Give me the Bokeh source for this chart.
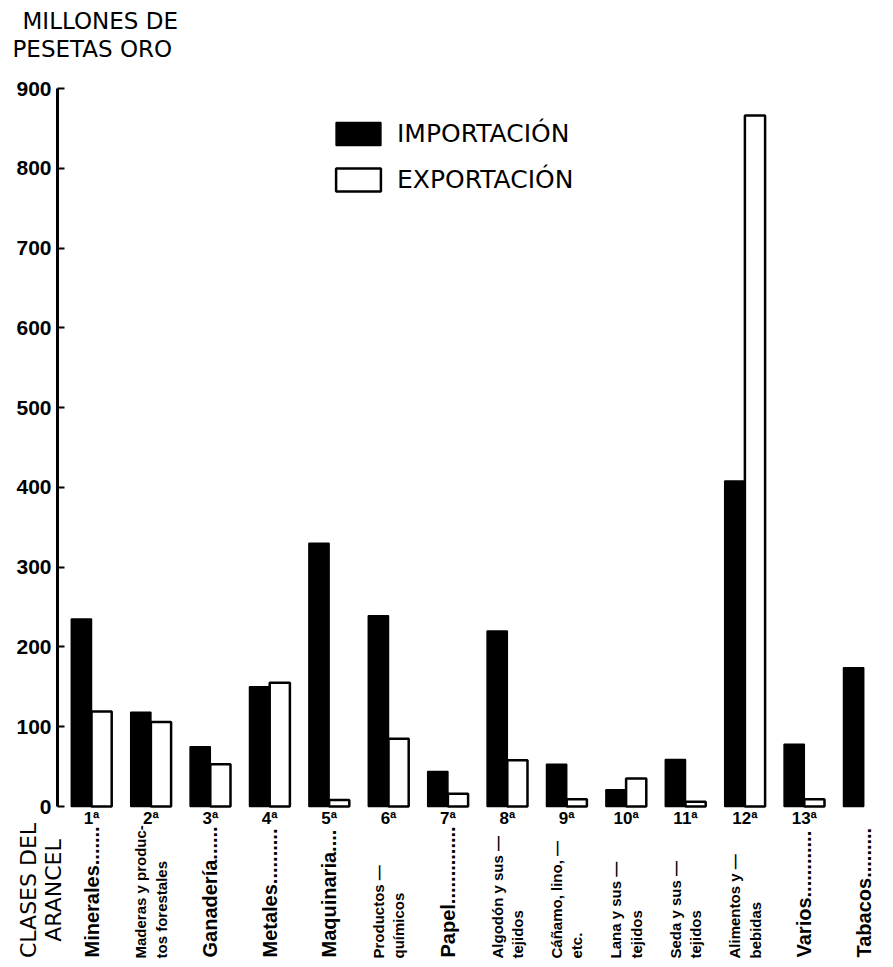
import math
from bokeh.plotting import figure
from bokeh.models import ColumnDataSource, FixedTicker, Legend, LegendItem, Label, CDSView, IndexFilter
from bokeh.transform import dodge
from bokeh.core.properties import value
from bokeh.embed import file_html
from bokeh.resources import INLINE

# ---------------- data ----------------
clases = ["1ª", "2ª", "3ª", "4ª", "5ª", "6ª", "7ª", "8ª", "9ª", "10ª", "11ª", "12ª", "13ª", ""]
nombres = [
    "Minerales.......",
    "Maderas y produc-\ntos forestales",
    "Ganadería......",
    "Metales..........",
    "Maquinaria....",
    "Productos —\nquímicos",
    "Papel..............",
    "Algodón y sus —\ntejidos",
    "Cáñamo, lino, —\netc.",
    "Lana y sus —\ntejidos",
    "Seda y sus —\ntejidos",
    "Alimentos y —\nbebidas",
    "Varios............",
    "Tabacos.........",
]
importacion = [235, 118, 75, 150, 330, 239, 44, 220, 53, 21, 59, 408, 78, 174]
exportacion = [119, 106, 53, 155, 8, 85, 16, 58, 9, 35, 6, 866, 9, float("nan")]
y_ticks = [0, 100, 200, 300, 400, 500, 600, 700, 800, 900]

# ---------------- layout ----------------
W, H = 885, 960
AXIS_X = 57          # pixel column of the value axis
PX = 59.4            # pixels per category step
X_AX = 1 - 34 / PX   # data x of the value axis
XS = X_AX - AXIS_X / PX
XE = X_AX + (W - AXIS_X) / PX
PY = 718 / 900       # pixels per unit
Y_BASE = 806
YS = -(H - Y_BASE) / PY
YE = Y_BASE / PY


def dx(cx):
    return X_AX + (cx - AXIS_X) / PX


def dy(cy):
    return (Y_BASE - cy) / PY


src = ColumnDataSource(dict(
    x=list(range(1, len(clases) + 1)),
    clase=clases,
    nombre=nombres,
    imp=importacion,
    exp=exportacion,
))
una = [i for i, n in enumerate(nombres) if "\n" not in n]
dos = [i for i, n in enumerate(nombres) if "\n" in n]

p = figure(width=W, height=H, x_range=(XS, XE), y_range=(YS, YE),
           output_backend="svg", toolbar_location=None, x_axis_location=None,
           min_border_left=0, min_border_right=0, min_border_top=0,
           min_border_bottom=0)
p.outline_line_color = None
p.xgrid.visible = False
p.ygrid.visible = False
p.background_fill_color = "white"
p.border_fill_color = "white"

ax = p.yaxis[0]
ax.fixed_location = X_AX
ax.ticker = FixedTicker(ticks=y_ticks)
ax.bounds = (0, 900)
ax.axis_line_width = 3
ax.axis_line_color = "black"
ax.major_tick_in = 7
ax.major_tick_out = 0
ax.major_tick_line_width = 2
ax.minor_tick_line_color = None
ax.major_label_text_font = "Liberation Sans"
ax.major_label_text_font_style = "bold"
ax.major_label_text_font_size = "21px"
ax.major_label_text_color = "black"
ax.major_label_standoff = 6

r_imp = p.vbar(x=dodge("x", -0.17, range=p.x_range), top="imp", width=0.34,
               source=src, fill_color="black", line_color="black", line_width=1.5)
r_exp = p.vbar(x=dodge("x", 0.17, range=p.x_range), top="exp", width=0.34,
               source=src, fill_color="white", line_color="black", line_width=2.5)

p.text(x="x", y=dy(818), text="clase", source=src, text_align="center",
       text_baseline="middle", text_font=value("Liberation Sans"),
       text_font_style="bold", text_font_size="17px", text_color="black")

p.text(x="x", y=dy(957), text="nombre", source=src, view=CDSView(filter=IndexFilter(una)),
       angle=math.pi / 2, text_align="left", text_baseline="middle",
       text_font=value("Liberation Sans"), text_font_style="bold",
       text_font_size="20px", text_color="black")
p.text(x="x", y=dy(958), text="nombre", source=src, view=CDSView(filter=IndexFilter(dos)),
       angle=math.pi / 2, text_align="left", text_baseline="middle",
       text_font=value("Liberation Sans"), text_font_style="bold",
       text_font_size="15px", text_line_height=1.2, text_color="black")

legend = Legend(items=[LegendItem(label="IMPORTACIÓN", renderers=[r_imp]),
                       LegendItem(label="EXPORTACIÓN", renderers=[r_exp])],
                location=(330, H - 194), orientation="vertical",
                glyph_width=56, glyph_height=29, label_height=29,
                spacing=17, padding=0, margin=0, label_standoff=11,
                border_line_color=None, background_fill_alpha=0,
                label_text_font="DejaVu Sans", label_text_font_size="25px",
                label_text_color="black")
p.add_layout(legend)

p.add_layout(Label(x=dx(22), y=dy(20), text="MILLONES DE", text_baseline="middle",
                   text_align="left", text_font="DejaVu Sans", text_font_size="23px",
                   text_color="black"))
p.add_layout(Label(x=dx(12), y=dy(48), text="PESETAS ORO", text_baseline="middle",
                   text_align="left", text_font="DejaVu Sans", text_font_size="23px",
                   text_color="black"))
p.add_layout(Label(x=dx(40), y=dy(890), text="CLASES DEL\nARANCEL", angle=math.pi / 2,
                   text_baseline="middle", text_align="center", text_line_height=1.0,
                   text_font="DejaVu Sans", text_font_size="22px", text_color="black"))

open("out.html", "w").write(file_html(p, INLINE))
